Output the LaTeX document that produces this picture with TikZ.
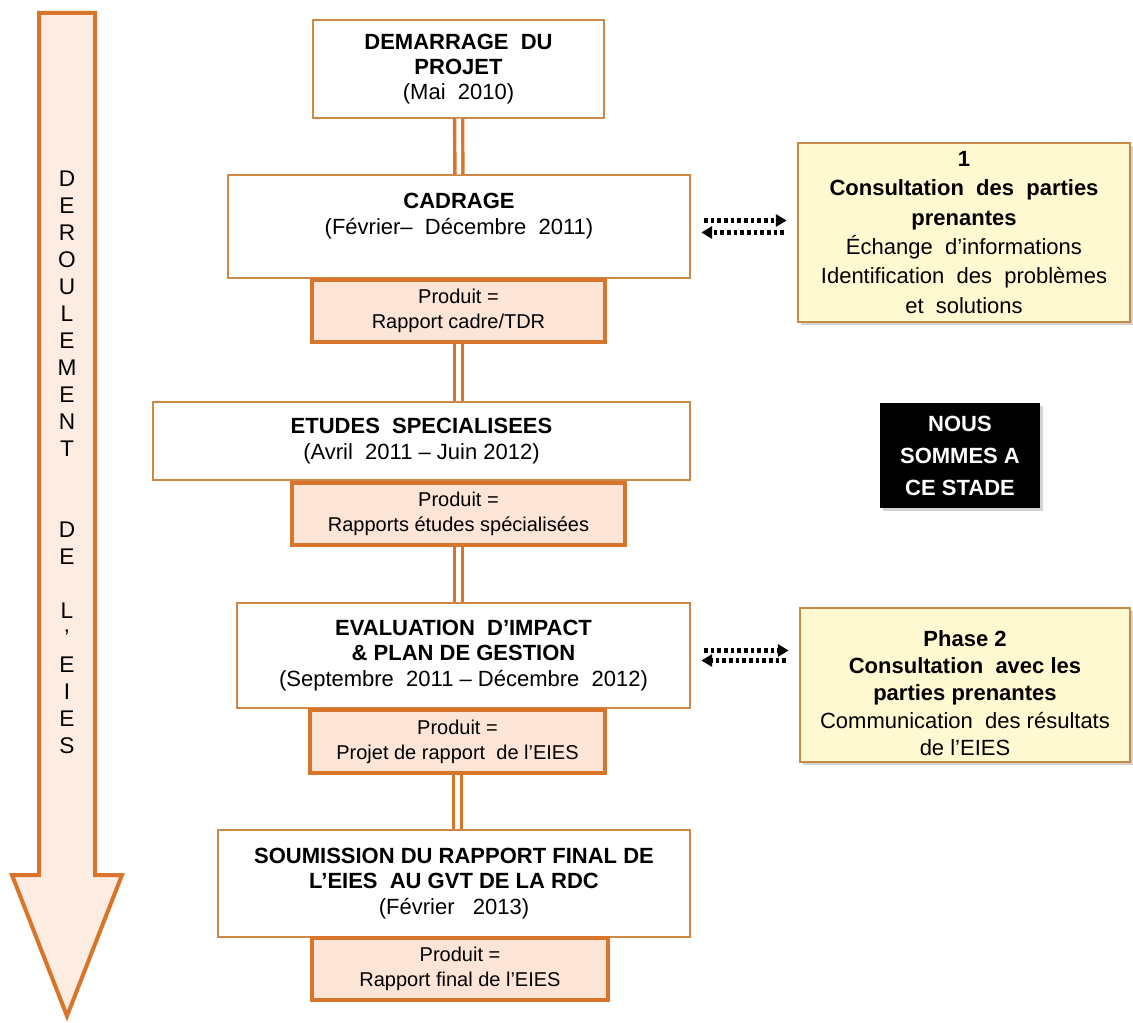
\documentclass[tikz,border=0pt]{standalone}
\usepackage{fontspec}
\setmainfont{Liberation Sans}
\usetikzlibrary{arrows.meta,shadows}

\definecolor{orangeline}{RGB}{217,117,43}
\definecolor{produitfill}{RGB}{252,228,214}
\definecolor{arrowfill}{RGB}{253,236,226}
\definecolor{consultfill}{RGB}{255,249,210}
\definecolor{consultline}{RGB}{196,140,72}
\definecolor{boxline}{RGB}{205,135,70}

\tikzset{
  stage/.style={draw=boxline, line width=1.1pt, fill=white, align=center, inner sep=0pt,
    font=\fontsize{16.5}{19}\selectfont},
  produit/.style={draw=orangeline, line width=3.6pt, fill=produitfill, align=center, inner sep=0pt,
    font=\fontsize{15}{18.75}\selectfont},
  consult/.style={draw=consultline, line width=1.1pt, fill=consultfill, align=center, inner sep=0pt,
    drop shadow={shadow xshift=2pt, shadow yshift=-2pt, opacity=0.35},
    font=\fontsize{16.5}{22}\selectfont},
  link/.style={draw=orangeline, line width=2.6pt, double=white, double distance=3.4pt},
  dotarr/.style={line width=3.4pt, dash pattern=on 2.8pt off 2.2pt,
    -{Triangle[length=8pt, width=9pt]}, shorten <=10pt, shorten >=8pt},
}

\begin{document}
\begin{tikzpicture}[x=0.75pt,y=0.75pt,yscale=-1,xscale=1]
\useasboundingbox (0,0) rectangle (1133,1023);

%Shape: Down Arrow
\draw [draw=orangeline, line width=3pt, fill=arrowfill, line join=miter]
  (39,13) -- (95,13) -- (95,875) -- (122,875) -- (67,1016) -- (12,875) -- (39,875) -- cycle;
% Text Node
\node [align=center, inner sep=0pt, font=\fontsize{17}{20.26}\selectfont] (deroulement) at (67,462)
  {D\\E\\R\\O\\U\\L\\E\\M\\E\\N\\T\\~\\~\\D\\E\\~\\L\\’\\E\\I\\E\\S};

%Shape: Rectangle
\node [stage, minimum width=218.25pt, minimum height=73.5pt] (demarrage) at (458.5,69)
  {\textbf{DEMARRAGE~~DU}\\\textbf{PROJET}\\(Mai~ 2010)};
\node [stage, minimum width=346.5pt, minimum height=77.25pt] (cadrage) at (459,226.5)
  {\textbf{CADRAGE}\\(Février–~ Décembre~ 2011)\\~};
\node [produit, minimum width=219.75pt, minimum height=46.5pt] (produit1) at (458.5,311)
  {Produit =\\Rapport cadre/TDR};
\node [stage, minimum width=402.75pt, minimum height=58.5pt] (etudes) at (421.5,441)
  {\textbf{ETUDES~ SPECIALISEES}\\(Avril~ 2011 – Juin 2012)};
\node [produit, minimum width=249.75pt, minimum height=46.5pt] (produit2) at (458.5,514)
  {Produit =\\Rapports études spécialisées};
\node [stage, minimum width=339.75pt, minimum height=78.75pt] (evaluation) at (463.5,655.5)
  {\textbf{EVALUATION~ D’IMPACT}\\\textbf{\& PLAN DE GESTION}\\(Septembre~ 2011 – Décembre~ 2012)};
\node [produit, minimum width=221.25pt, minimum height=47.25pt] (produit3) at (457.5,741.5)
  {Produit =\\Projet de rapport~ de l’EIES};
\node [stage, minimum width=354pt, minimum height=80.25pt] (soumission) at (454,883.5)
  {\textbf{SOUMISSION DU RAPPORT FINAL DE}\\\textbf{L’EIES~ AU GVT DE LA RDC}\\(Février~~ 2013)};
\node [produit, minimum width=222pt, minimum height=46.5pt] (produit4) at (460,969)
  {Produit =\\Rapport final de l’EIES};

%Shape: Consultation boxes
\node [consult, minimum width=249pt, minimum height=134.25pt] (consult1) at (964,232.5)
  {\textbf{1}\\\textbf{Consultation~ des~ parties}\\\textbf{prenantes}\\Échange~ d’informations\\Identification~ des~ problèmes\\et~ solutions};
\node [consult, minimum width=247.5pt, minimum height=115.5pt, font=\fontsize{16.5}{20.4}\selectfont] (consult2) at (965,685)
  {\rule{0pt}{24pt}\textbf{Phase 2}\\\textbf{Consultation~ avec les}\\\textbf{parties prenantes}\\Communication~ des résultats\\de l’EIES};
\node [fill=black, text=white, align=center, inner sep=0pt, minimum width=120pt, minimum height=78.75pt,
  drop shadow={shadow xshift=2pt, shadow yshift=-2pt, opacity=0.35},
  font=\bfseries\fontsize{16.5}{24}\selectfont] (stade) at (960,455.5)
  {NOUS\\SOMMES A\\CE STADE};

%Connectors
\draw [link] (demarrage) -- (cadrage);
\draw [link] (produit1) -- (produit1.south |- etudes.north);
\draw [link] (produit2) -- (produit2.south |- evaluation.north);
\draw [link] (produit3) -- (produit3.south |- soumission.north);

%Dotted arrows
\draw [dotarr] ([yshift=-4.5pt]cadrage.east) -- ([yshift=-4.5pt]cadrage.east -| consult1.west);
\draw [dotarr] ([yshift=4.5pt]cadrage.east -| consult1.west) -- ([yshift=4.5pt]cadrage.east);
\draw [dotarr] ([yshift=-3.75pt]evaluation.east) -- ([yshift=-3.75pt]evaluation.east -| consult2.west);
\draw [dotarr] ([yshift=3.75pt]evaluation.east -| consult2.west) -- ([yshift=3.75pt]evaluation.east);
\end{tikzpicture}
\end{document}
